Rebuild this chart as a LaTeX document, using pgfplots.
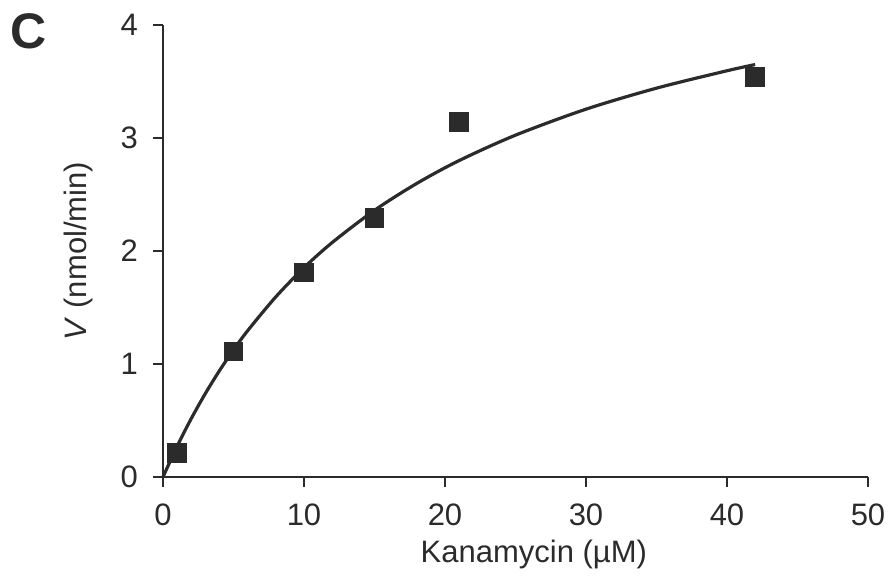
\documentclass[border=0pt]{standalone}
\usepackage{fontspec}
\setmainfont{Liberation Sans}
\usepackage{pgfplots}
\pgfplotsset{compat=1.18}

\definecolor{ink}{HTML}{2B2B2B}

\begin{document}
\begin{tikzpicture}
\useasboundingbox (-81.5pt,-52pt) rectangle (364.5pt,238.5pt);
\begin{axis}[
    at={(0,0)}, anchor=south west,
    scale only axis,
    width=352.5pt, height=226pt,
    xmin=0, xmax=50, ymin=0, ymax=4,
    axis lines*=left,
    axis line style={ink, line width=1.1pt},
    xtick={0,10,...,50}, ytick={0,1,2,3,4},
    tick align=outside, tick style={ink, line width=1pt},
    major tick length=5pt,
    font=\fontsize{15.5}{18}\selectfont,
    /pgf/number format/assume math mode=true,
    tick label style={text=ink},
    xticklabel style={yshift=-5pt},
    yticklabel style={xshift=-4pt},
    xlabel={Kanamycin (µM)},
    ylabel={\textit{V} (nmol/min)},
    xlabel style={at={(axis description cs:0.526,-0.172)}, anchor=center, text=ink},
    ylabel style={at={(axis description cs:-0.12,0.5)}, anchor=center, text=ink},
    clip=false,
]
% fitted curve (hyperbolic fit)
\addplot[ink, line width=1.6pt, smooth] coordinates {
    (0,0) (1,0.2715) (2,0.516) (3,0.738) (4,0.940) (5,1.124) (6,1.294)
    (8,1.594) (10,1.852) (12,2.075) (15,2.360) (18,2.598) (21,2.800)
    (25,3.025) (30,3.255) (35,3.441) (40,3.595) (42,3.650)
};
% measured points
\addplot[only marks, mark=square*, mark size=4.7pt, mark options={fill=ink, draw=ink, line width=0pt}] coordinates {
    (1,0.21) (5,1.11) (10,1.81) (15,2.29) (21,3.14) (42,3.54)
};
\node[font=\fontsize{25}{28}\selectfont\bfseries, text=ink] at (rel axis cs:-0.19,0.985) {C};
\end{axis}
\end{tikzpicture}
\end{document}
